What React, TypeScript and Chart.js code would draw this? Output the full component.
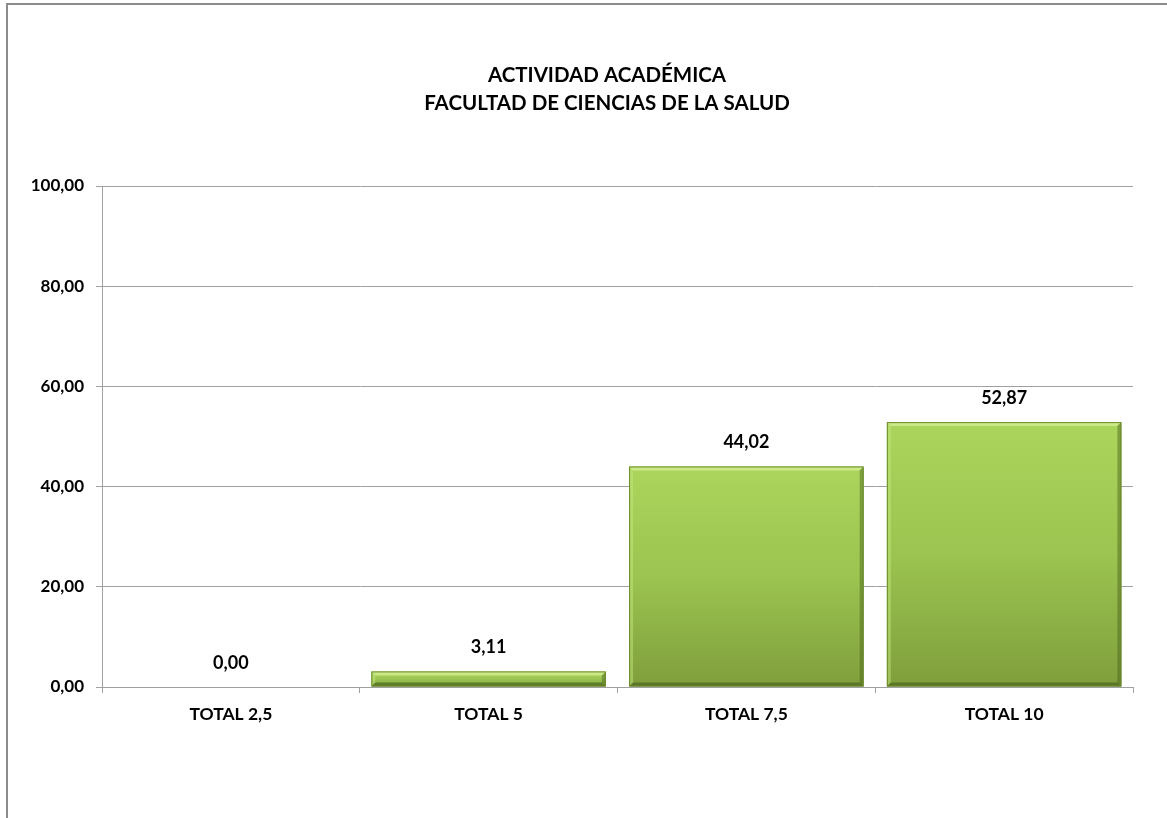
import React, { useEffect, useRef } from "react";
import { Chart, registerables } from "chart.js";

Chart.register(...registerables);

const titleLines = ["ACTIVIDAD ACADÉMICA", "FACULTAD DE CIENCIAS DE LA SALUD"];
const categories = ["TOTAL 2,5", "TOTAL 5", "TOTAL 7,5", "TOTAL 10"];
const values = [0.0, 3.11, 44.02, 52.87];
const yMin = 0;
const yMax = 100;
const yStep = 20;

const FONT = "Lato, 'Open Sans', sans-serif";
const fmt = (v: number) => v.toFixed(2).replace(".", ",");

const titlePlugin = {
  id: "customTitle",
  afterDraw(chart: any) {
    const ctx = chart.ctx;
    ctx.save();
    ctx.fillStyle = "#000";
    ctx.font = `bold 20.5px ${FONT}`;
    ctx.textAlign = "center";
    ctx.textBaseline = "middle";
    ctx.fillText(titleLines[0], 599, 70);
    ctx.fillText(titleLines[1], 599, 98);
    ctx.restore();
  },
};

const bevelPlugin = {
  id: "bevel",
  afterDatasetsDraw(chart: any) {
    const ctx = chart.ctx;
    const meta = chart.getDatasetMeta(0);
    ctx.save();
    meta.data.forEach((el: any) => {
      const w = el.width;
      const l = el.x - w / 2;
      const r = el.x + w / 2;
      const t = el.y;
      const b = el.base;
      const h = b - t;
      if (h < 1) return;
      const d = Math.min(4, h / 2);
      // top highlight
      ctx.fillStyle = "rgba(215,240,150,0.75)";
      ctx.beginPath();
      ctx.moveTo(l, t);
      ctx.lineTo(r, t);
      ctx.lineTo(r - d, t + d);
      ctx.lineTo(l + d, t + d);
      ctx.closePath();
      ctx.fill();
      // left highlight
      ctx.fillStyle = "rgba(200,235,130,0.45)";
      ctx.beginPath();
      ctx.moveTo(l, t);
      ctx.lineTo(l + d, t + d);
      ctx.lineTo(l + d, b - d);
      ctx.lineTo(l, b);
      ctx.closePath();
      ctx.fill();
      // right shade
      ctx.fillStyle = "rgba(70,95,25,0.45)";
      ctx.beginPath();
      ctx.moveTo(r, t);
      ctx.lineTo(r, b);
      ctx.lineTo(r - d, b - d);
      ctx.lineTo(r - d, t + d);
      ctx.closePath();
      ctx.fill();
      // bottom shade
      ctx.fillStyle = "rgba(60,85,20,0.55)";
      ctx.beginPath();
      ctx.moveTo(l, b);
      ctx.lineTo(r, b);
      ctx.lineTo(r - d, b - d);
      ctx.lineTo(l + d, b - d);
      ctx.closePath();
      ctx.fill();
      ctx.strokeStyle = "#6a8a2c";
      ctx.lineWidth = 1;
      ctx.strokeRect(l + 0.5, t + 0.5, w - 1, h - 1);
    });
    ctx.restore();
  },
};

const labelPlugin = {
  id: "valueLabels",
  afterDatasetsDraw(chart: any) {
    const ctx = chart.ctx;
    const meta = chart.getDatasetMeta(0);
    ctx.save();
    ctx.fillStyle = "#000";
    ctx.font = `bold 18px ${FONT}`;
    ctx.textAlign = "center";
    ctx.textBaseline = "middle";
    meta.data.forEach((el: any, i: number) => {
      ctx.fillText(fmt(values[i]), el.x, el.y - 24);
    });
    ctx.restore();
  },
};

export default function App() {
  const ref = useRef<HTMLCanvasElement | null>(null);
  useEffect(() => {
    if (!ref.current) return;
    const chart = new Chart(ref.current, {
      type: "bar",
      data: {
        labels: categories,
        datasets: [
          {
            data: values,
            backgroundColor: (c: any) => {
              const ch = c.chart;
              if (c.type !== "data" || !ch.scales || !ch.scales.y) return "#98c24a";
              const ys = ch.scales.y;
              const top = ys.getPixelForValue(c.parsed ? c.parsed.y : values[c.dataIndex]);
              const base = ys.getPixelForValue(0);
              if (!isFinite(top) || !isFinite(base) || base - top < 1) return "#a9d35a";
              const g = ch.ctx.createLinearGradient(0, top, 0, base);
              g.addColorStop(0, "#abd55c");
              g.addColorStop(0.5, "#9bc450");
              g.addColorStop(1, "#7f9e3c");
              return g;
            },
            borderColor: "#6f8f30",
            borderWidth: 0,
            categoryPercentage: 1,
            barPercentage: 0.91,
          },
        ],
      },
      options: {
        responsive: false,
        animation: false,
        layout: { padding: { top: 181, right: 34, left: 0, bottom: 0 } },
        plugins: {
          legend: { display: false },
          title: { display: false },
          tooltip: { enabled: false },
        },
        scales: {
          x: {
            afterFit: (s: any) => {
              s.height = 131;
            },
            grid: {
              offset: true,
              drawOnChartArea: false,
              drawTicks: true,
              tickLength: 6,
              color: "#a0a0a0",
            },
            border: { display: true, color: "#a0a0a0" },
            ticks: {
              color: "#000",
              padding: 11,
              font: { family: FONT, size: 17.5, weight: "bold" },
            },
          },
          y: {
            min: yMin,
            max: yMax,
            afterFit: (s: any) => {
              s.width = 94;
            },
            grid: {
              color: "#a0a0a0",
              tickLength: 6,
            },
            border: { display: true, color: "#a0a0a0" },
            ticks: {
              stepSize: yStep,
              color: "#000",
              padding: 12,
              font: { family: FONT, size: 17, weight: "bold" },
              callback: (v: any) => fmt(Number(v)),
            },
          },
        },
      },
      plugins: [titlePlugin, bevelPlugin, labelPlugin],
    });
    return () => chart.destroy();
  }, []);

  return (
    <div
      style={{
        position: "absolute",
        left: 6,
        top: 3,
        width: 1200,
        height: 850,
        borderLeft: "2px solid #8c8c8c",
        borderTop: "2px solid #8c8c8c",
        background: "#fff",
      }}
    >
      <canvas ref={ref} width={1159} height={813} style={{ display: "block" }} />
    </div>
  );
}
